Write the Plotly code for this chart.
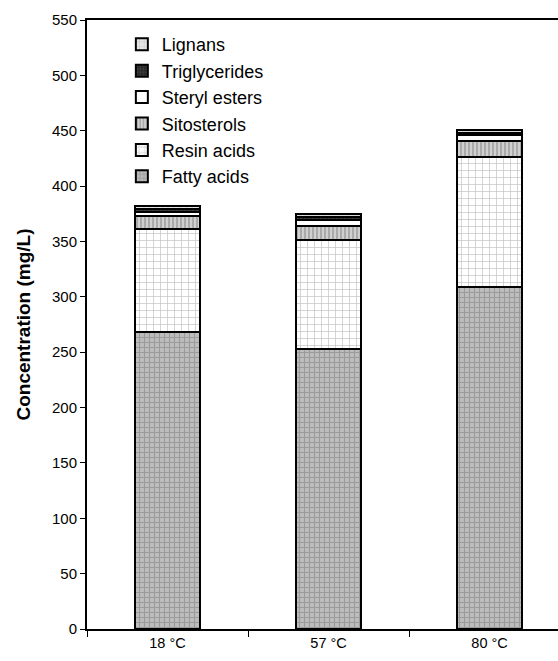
import plotly.graph_objects as go

temperatures = ["18 °C", "57 °C", "80 °C"]

fatty_acids = [268, 253, 309]
resin_acids = [93, 98, 117]
sitosterols = [12, 13, 15]
steryl_esters = [4, 5.5, 5]
triglycerides = [2, 2.5, 2]
lignans = [3, 2.5, 3]

y_ticks = list(range(0, 551, 50))

series = [
    ("Fatty acids", fatty_acids, dict(bgcolor="#bdbdbd", fgcolor="#7a7a7a", shape="+", size=5, solidity=0.4)),
    ("Resin acids", resin_acids, dict(bgcolor="#ffffff", fgcolor="#8c8c8c", shape="+", size=7, solidity=0.2)),
    ("Sitosterols", sitosterols, dict(bgcolor="#d0d0d0", fgcolor="#6f6f6f", shape="|", size=4, solidity=0.4)),
    ("Steryl esters", steryl_esters, dict(bgcolor="#ffffff", fgcolor="#ffffff", shape="")),
    ("Triglycerides", triglycerides, dict(bgcolor="#2a2a2a", fgcolor="#555555", shape=".", size=4, solidity=0.3)),
    ("Lignans", lignans, dict(bgcolor="#e6e6e6", fgcolor="#a0a0a0", shape="+", size=6, solidity=0.2)),
]

fig = go.Figure()
for name, values, pattern in series:
    fig.add_trace(go.Bar(
        name=name,
        x=temperatures,
        y=values,
        width=0.40,
        marker=dict(
            color=pattern["bgcolor"],
            line=dict(color="black", width=2),
            pattern=pattern,
        ),
    ))

fig.update_layout(
    barmode="stack",
    width=558,
    height=661,
    margin=dict(l=87, r=0, t=20, b=32),
    paper_bgcolor="white",
    plot_bgcolor="white",
    font=dict(family="Arial, Liberation Sans, sans-serif", color="black", size=14),
    showlegend=True,
    legend=dict(
        x=0.074, y=0.99, xanchor="left", yanchor="top",
        traceorder="reversed",
        font=dict(size=18),
        bgcolor="rgba(0,0,0,0)",
        itemwidth=30,
        tracegroupgap=0,
    ),
    xaxis=dict(
        type="category",
        range=[-0.5, 2.425],
        showline=True, linecolor="black", linewidth=2,
        mirror=True,
        ticks="outside", ticklen=6, tickwidth=1, tickcolor="black",
        tickson="boundaries",
        showgrid=False,
        tickfont=dict(size=14.5),
    ),
    yaxis=dict(
        range=[0, 550],
        tickvals=y_ticks,
        showline=True, linecolor="black", linewidth=2,
        ticks="outside", ticklen=5, tickwidth=1, tickcolor="black",
        showgrid=False, zeroline=False,
        tickfont=dict(size=15),
        title=dict(text="<b>Concentration (mg/L)</b>", font=dict(size=19), standoff=16),
    ),
)

fig.write_html("out.html")
